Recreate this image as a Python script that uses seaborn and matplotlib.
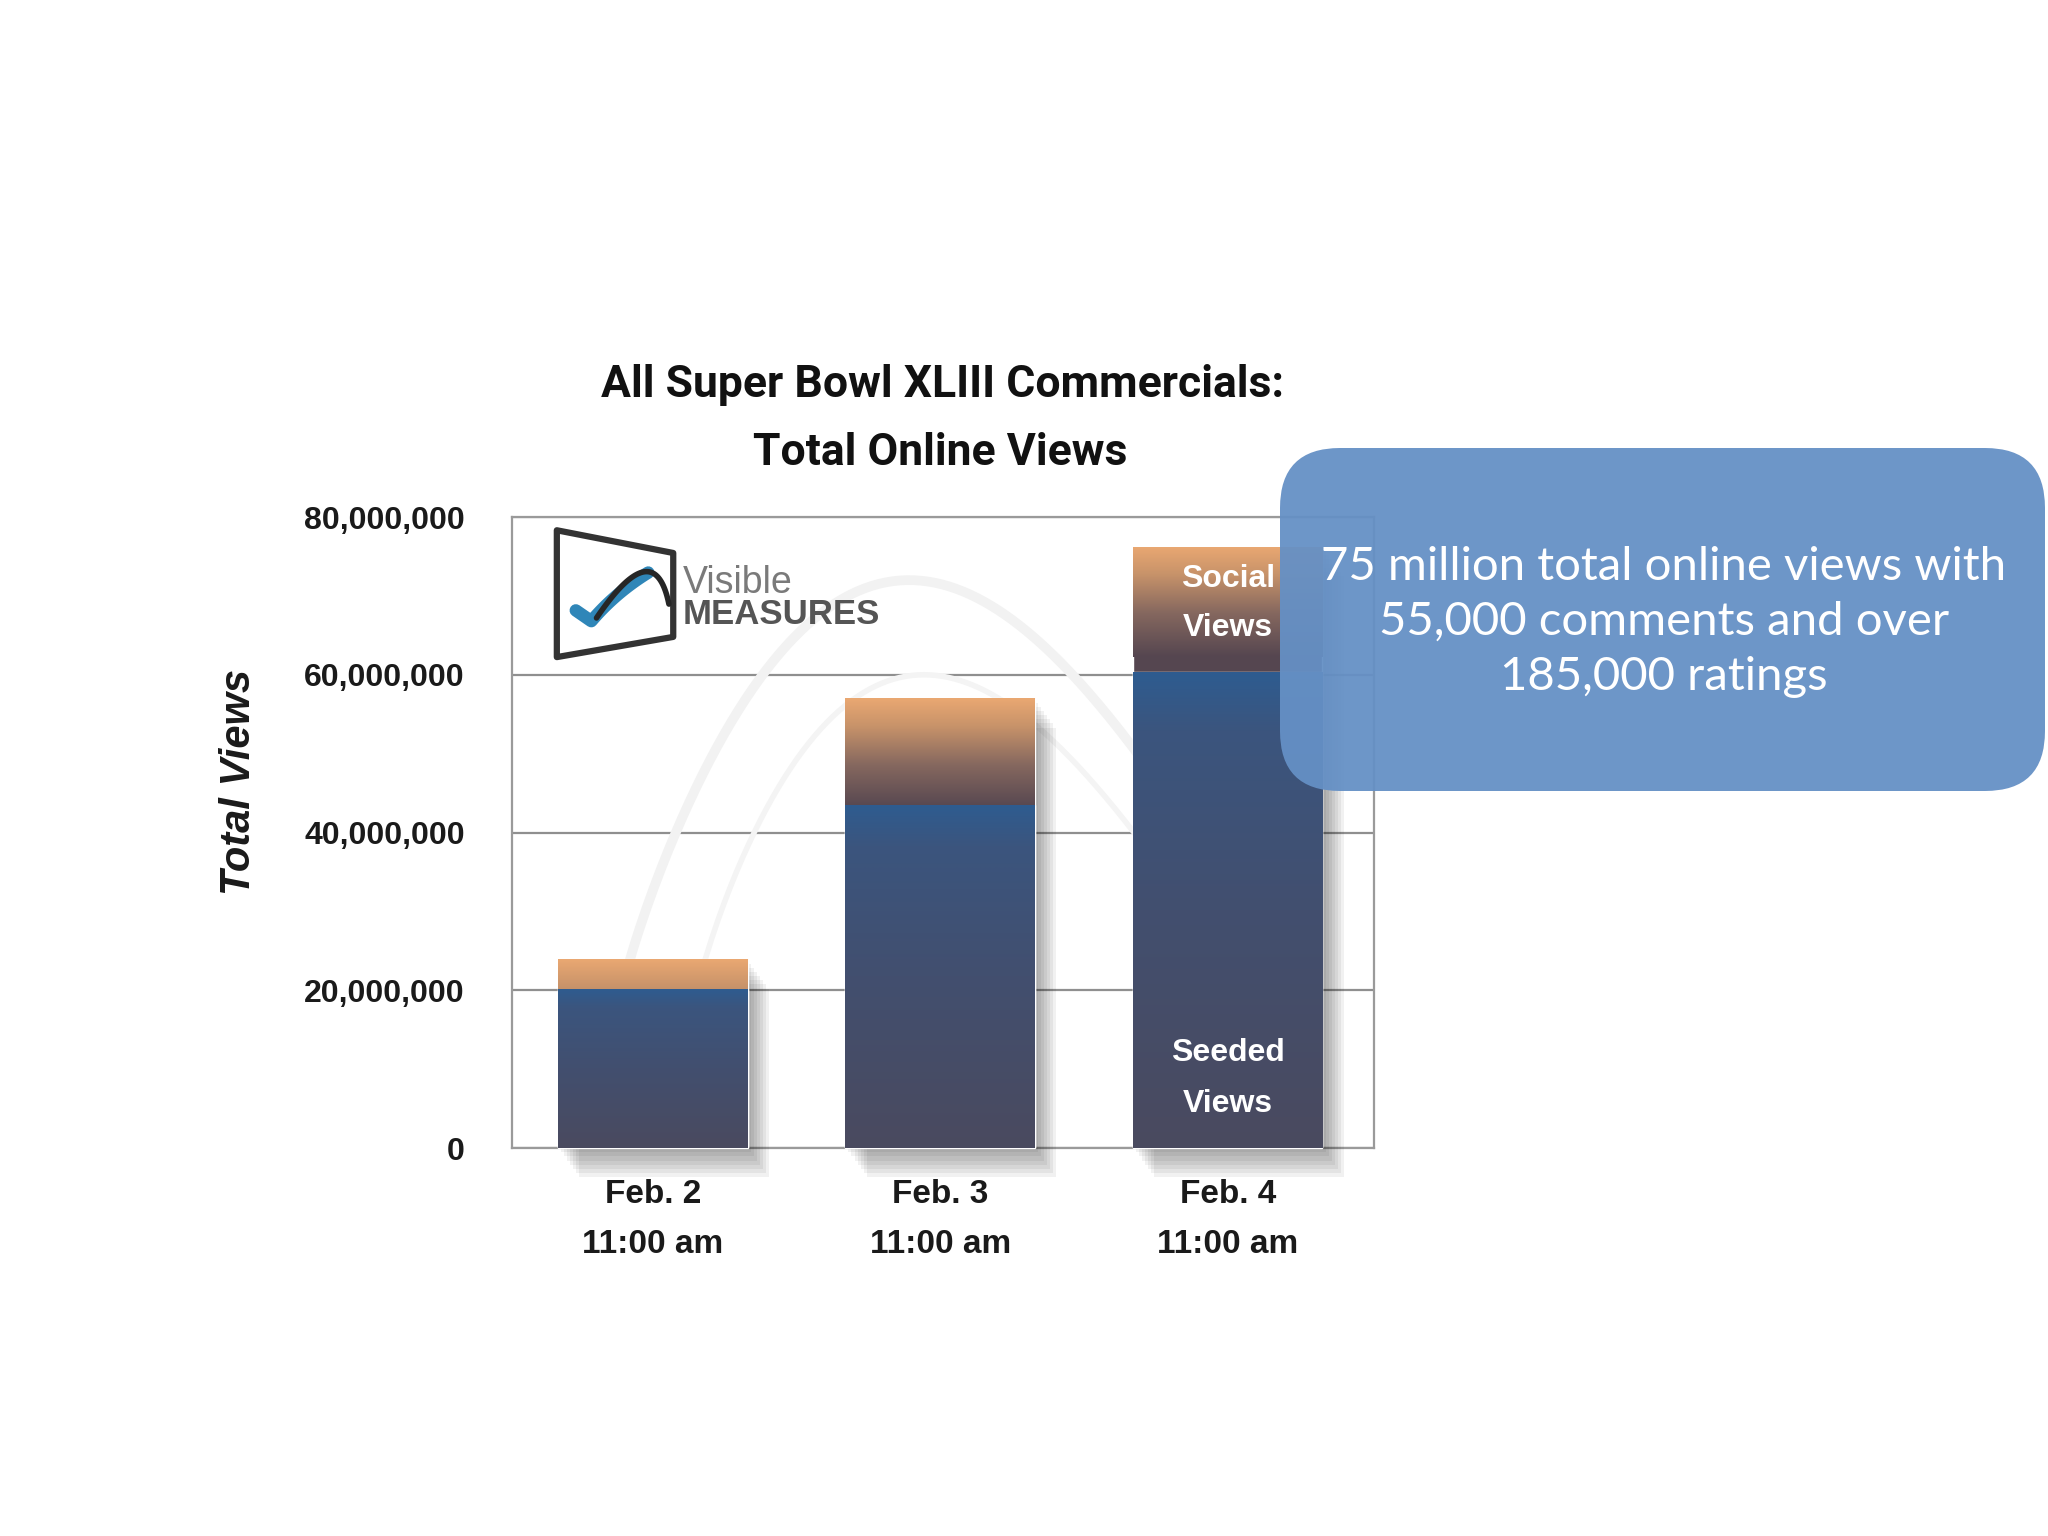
import numpy as np
import pandas as pd
import seaborn as sns
import matplotlib
matplotlib.use('Agg')
from matplotlib import pyplot as plt
from matplotlib.colors import LinearSegmentedColormap
from matplotlib.patches import FancyBboxPatch, Polygon
import matplotlib.patheffects as pe

# values
dates = ['Feb. 2\n11:00 am', 'Feb. 3\n11:00 am', 'Feb. 4\n11:00 am']
seeded_views = [20_200_000, 43_500_000, 60_300_000]
total_views = [23_900_000, 57_000_000, 76_200_000]
y_ticks = [0, 20_000_000, 40_000_000, 60_000_000, 80_000_000]
y_tick_labels = ['0', '20,000,000', '40,000,000', '60,000,000', '80,000,000']

title_lines = ['All Super Bowl XLIII Commercials:', 'Total Online Views']
callout = '75 million total online views with\n55,000 comments and over\n185,000 ratings'

seeded_cmap = LinearSegmentedColormap.from_list(
    'seeded', [(0, '#4a4a5f'), (0.5, '#424f6f'), (0.88, '#3b557e'), (1, '#2e5c90')])
social_cmap = LinearSegmentedColormap.from_list(
    'social', [(0, '#554650'), (0.4, '#86685f'), (0.75, '#c8936a'), (1, '#eaa872')])
SOCIAL_FADE = 14_000_000  # depth of the orange fade below the bar top


def fill_gradient(axes, patch, cmap, y_low, y_high):
    """Paint a vertical gradient clipped to a bar patch"""
    x0, w = patch.get_x(), patch.get_width()
    grad = np.linspace(0, 1, 256).reshape(-1, 1)
    im = axes.imshow(grad, extent=(x0, x0 + w, y_low, y_high), origin='lower',
                     aspect='auto', cmap=cmap, interpolation='bicubic',
                     zorder=patch.get_zorder() + 0.5)
    im.set_clip_path(patch)


def bezier(p0, p1, p2, n=60):
    """Quadratic bezier points, used for the logo strokes"""
    s = np.linspace(0, 1, n)[:, None]
    pts = (1 - s) ** 2 * np.array(p0) + 2 * (1 - s) * s * np.array(p1) + s ** 2 * np.array(p2)
    return pts[:, 0], pts[:, 1]


sns.set_style('white')
plt.rcParams['font.family'] = ['Liberation Sans', 'DejaVu Sans']

fig = plt.figure(figsize=(20.48, 15.36), dpi=100)
ax = fig.add_axes([0.25, 0.2526, 0.421, 0.4108])

df = pd.DataFrame({'date': dates, 'seeded': seeded_views, 'total': total_views})
sns.barplot(data=df, x='date', y='total', color='#554650', width=0.66,
            saturation=1, ax=ax, zorder=3)
social_bars = list(ax.patches)
sns.barplot(data=df, x='date', y='seeded', color='#3b557e', width=0.66,
            saturation=1, ax=ax, zorder=3)
seeded_bars = list(ax.patches[len(social_bars):])

shadow = [pe.SimplePatchShadow(offset=(k * 2.2, -k * 3.0), shadow_rgbFace='k', alpha=0.055)
          for k in range(1, 8)]
for bar in social_bars:
    bar.set_path_effects(shadow + [pe.Normal()])
    bar.set_clip_on(False)

for soc, sed in zip(social_bars, seeded_bars):
    top = soc.get_height()
    fill_gradient(ax, soc, social_cmap, top - SOCIAL_FADE, top)
    fill_gradient(ax, sed, seeded_cmap, 0, sed.get_height())

# faint watermark swoosh
t = np.linspace(0, 1, 200)
ax.plot(0.12 + 0.81 * t, 0.2 + 0.7 * np.sin(np.pi * t ** 0.8), transform=ax.transAxes,
        color='#f2f2f2', lw=7, zorder=1, solid_capstyle='round')
ax.plot(0.2 + 0.7 * t, 0.15 + 0.6 * np.sin(np.pi * t ** 0.75), transform=ax.transAxes,
        color='#f4f4f4', lw=4, zorder=1, solid_capstyle='round')

ax.set_xlim(-0.49, 2.51)
ax.set_ylim(0, 80_000_000)
ax.set_yticks(y_ticks)
ax.set_yticklabels(y_tick_labels)
ax.yaxis.grid(True, color='#8f8f8f', linewidth=1.6)
ax.set_axisbelow(True)
for sp in ax.spines.values():
    sp.set_color('#9a9a9a')
    sp.set_linewidth(1.6)
ax.tick_params(axis='both', length=0)
ax.tick_params(axis='y', pad=34)
ax.tick_params(axis='x', pad=22)
for lbl in ax.get_yticklabels():
    lbl.set_fontsize(23)
    lbl.set_fontweight('bold')
    lbl.set_color('#1a1a1a')
for lbl in ax.get_xticklabels():
    lbl.set_fontsize(24)
    lbl.set_fontweight('bold')
    lbl.set_color('#1a1a1a')
    lbl.set_linespacing(1.8)
ax.set_xlabel('')
ax.set_ylabel('Total Views', fontsize=30, fontweight='bold', fontstyle='italic', color='#1a1a1a')
ax.yaxis.set_label_coords(-0.293, 0.58)

# labels inside the last bar
for txt, yv in [('Social', 72_100_000), ('Views', 65_900_000),
                ('Seeded', 12_000_000), ('Views', 5_600_000)]:
    ax.text(2, yv, txt, color='white', fontsize=23, fontweight='bold',
            ha='center', va='center', zorder=6)

# logo
ax.add_patch(Polygon([(0.052, 0.778), (0.052, 0.979), (0.187, 0.943), (0.187, 0.81)],
                     closed=True, transform=ax.transAxes, facecolor='white',
                     edgecolor='#333333', lw=4.5, joinstyle='round', zorder=5))
bx, by = bezier((0.092, 0.835), (0.12, 0.88), (0.158, 0.912))
ax.plot(np.r_[0.074, bx], np.r_[0.852, by], transform=ax.transAxes,
        color='#2f86b8', lw=9, zorder=6, solid_capstyle='round', solid_joinstyle='round')
dx, dy = bezier((0.098, 0.84), (0.165, 0.975), (0.182, 0.862))
ax.plot(dx, dy, transform=ax.transAxes,
        color='#262626', lw=4, zorder=7, solid_capstyle='round')
ax.text(0.198, 0.895, 'Visible', transform=ax.transAxes, fontsize=27, color='#7a7a7a',
        ha='left', va='center', zorder=6)
ax.text(0.198, 0.846, 'MEASURES', transform=ax.transAxes, fontsize=25, color='#555555',
        fontweight='bold', ha='left', va='center', zorder=6)

# title
fig.text(0.46, 0.7493, title_lines[0], fontsize=32, fontweight='bold', ha='center',
         va='center', family=['Roboto', 'DejaVu Sans'], color='#111111')
fig.text(0.459, 0.705, title_lines[1], fontsize=32, fontweight='bold', ha='center',
         va='center', family=['Roboto', 'DejaVu Sans'], color='#111111')

# callout box
box = FancyBboxPatch((12.8, 7.45), 7.65, 3.43, transform=fig.dpi_scale_trans,
                     boxstyle='round,pad=0,rounding_size=0.6',
                     facecolor='#6590c5', edgecolor='none', alpha=0.95, zorder=5)
fig.add_artist(box)
fig.text(0.8125, 0.595, callout, fontsize=34, color='white', ha='center', va='center',
         linespacing=1.37, family=['Lato', 'DejaVu Sans'], zorder=6)

fig.savefig('out.png', dpi=100, facecolor='white')
